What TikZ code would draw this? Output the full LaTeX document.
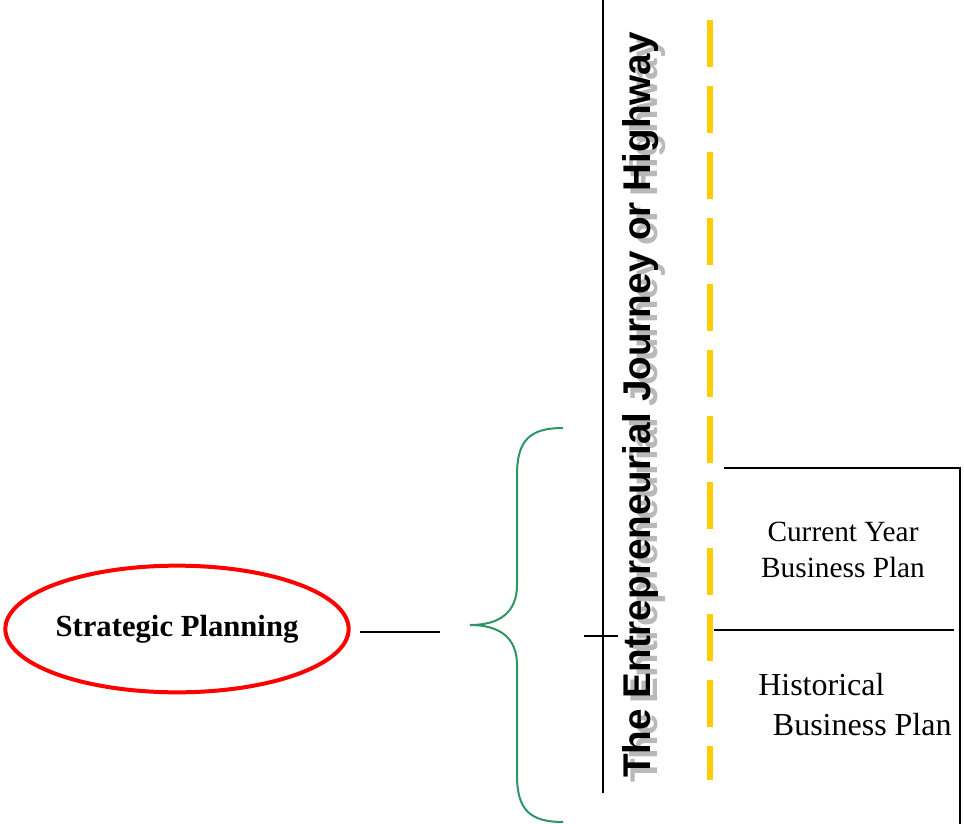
\documentclass[tikz,border=0pt]{standalone}
\usepackage{fontspec}
\setmainfont{Liberation Serif}
\newfontfamily\roadfont{Liberation Sans}
\usetikzlibrary{shapes.geometric}
\definecolor{roadyellow}{RGB}{255,204,0}
\definecolor{bracegreen}{RGB}{46,150,100}
\tikzset{
  planbox/.style={font=\fontsize{22}{27}\selectfont, align=center},
  roadline/.style={line width=1pt},
  roadtitle/.style={rotate=90, font=\roadfont\fontsize{29}{31}\selectfont\bfseries},
}
\begin{document}
\begin{tikzpicture}[x=0.75pt,y=-0.75pt]
\useasboundingbox (0,0) rectangle (964,824);
% strategic planning
\node[draw=red, line width=3pt, ellipse, minimum width=256pt, minimum height=95pt, inner sep=0pt, font=\fontsize{23}{25}\selectfont\bfseries] (sp) at (177,629) {Strategic Planning};
\coordinate (lnA) at (360,632);
\coordinate (lnB) at (440,632);
\draw[roadline] (lnA) -- (lnB);
% brace
\coordinate (brtop) at (563,428);
\coordinate (brtip) at (470,625);
\coordinate (brbot) at (563,822);
\draw[bracegreen, line width=1.5pt] (brtop) .. controls (530,428) and (517,440) .. (517,475) -- (517,585)
  .. controls (517,612) and (500,625) .. (brtip)
  .. controls (500,625) and (517,638) .. (517,665) -- (517,775)
  .. controls (517,810) and (530,822) .. (brbot);
% journey
\coordinate (jtop) at (603,0);
\coordinate (jbot) at (603,793);
\draw[roadline] (jtop) -- (jbot);
\coordinate (tickL) at (584,636);
\coordinate (tickR) at (618,636);
\draw[roadline] (tickL) -- (tickR);
\node[roadtitle, text=gray!55] (jshadow) at (648,410) {The Entrepreneurial Journey or Highway};
\node[roadtitle] (jtext) at (641,405) {The Entrepreneurial Journey or Highway};
% highway
\coordinate (hwtop) at (710,20);
\coordinate (hwbot) at (710,780);
\draw[roadyellow, line width=4.5pt, dash pattern=on 35.25pt off 14.25pt] (hwtop) -- (hwbot);
% business plans
\coordinate (bxA) at (724,468);
\coordinate (bxB) at (960,468);
\coordinate (bxC) at (960,824);
\draw[roadline] (bxA) -- (bxB) -- (bxC);
\coordinate (midA) at (714,630);
\coordinate (midB) at (954,630);
\draw[roadline] (midA) -- (midB);
\node[planbox] (cur) at (843,550) {Current Year\\Business Plan};
\node[planbox, align=left, anchor=west, inner sep=0pt, font=\fontsize{24}{30}\selectfont] (hist) at (758,705) {Historical\\\hspace{11pt}Business Plan};
\end{tikzpicture}
\end{document}
